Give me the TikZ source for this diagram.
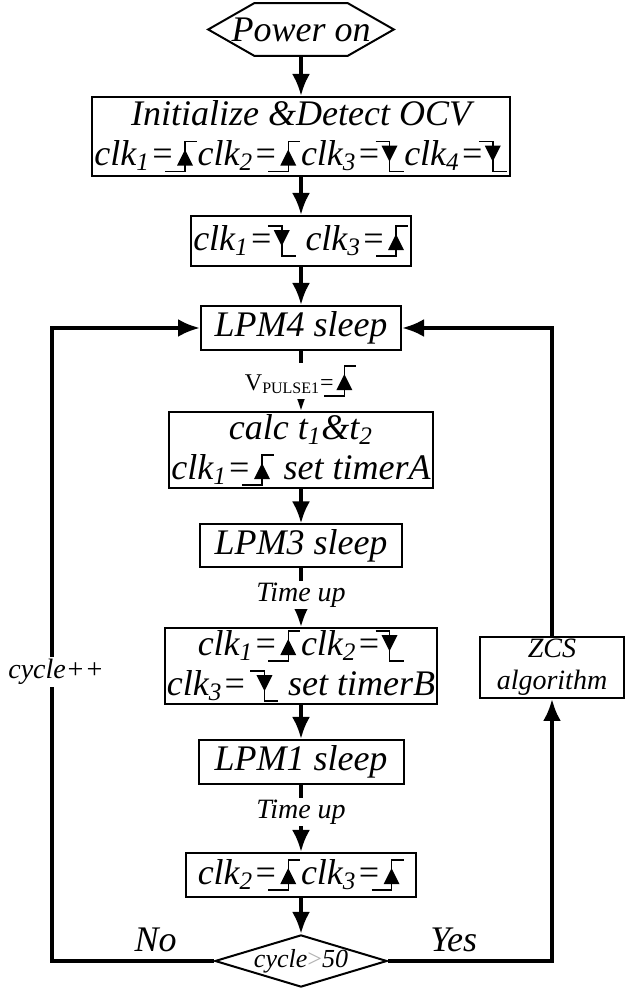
\documentclass[tikz,border=0pt]{standalone}
\usepackage{fontspec}
\setmainfont{Liberation Serif}
\usepackage{xcolor}
\usepackage{tikz}
\usetikzlibrary{shapes,arrows,arrows.meta}
% clock edge symbols
\newsavebox{\riseglyph}
\savebox{\riseglyph}{\begin{tikzpicture}[x=1pt,y=1pt,line width=0.7pt,baseline=0pt]
  \draw (0,-3) -- (10,-3) -- (10,12) -- (16,12);
  \fill (6,0) -- (14,0) -- (10,8) -- cycle;
\end{tikzpicture}}
\newsavebox{\fallglyph}
\savebox{\fallglyph}{\begin{tikzpicture}[x=1pt,y=1pt,line width=0.7pt,baseline=0pt]
  \draw (0,12) -- (7,12) -- (7,-3) -- (14,-3);
  \fill (3,10) -- (11,10) -- (7,2) -- cycle;
\end{tikzpicture}}
\newcommand{\edgeup}{\kern-5pt\usebox{\riseglyph}}
\newcommand{\edgedn}{\kern-3pt\usebox{\fallglyph}}
\tikzstyle{block} = [rectangle, draw, line width=1pt, align=center, inner sep=1pt,
    font=\fontsize{18}{20}\selectfont\itshape]
\tikzstyle{smallblock} = [rectangle, draw, line width=1pt, align=center, inner sep=1pt,
    font=\fontsize{14}{16}\selectfont\itshape]
\tikzstyle{decision} = [diamond, aspect=3.3, draw, line width=1pt, inner sep=0pt,
    font=\fontsize{13}{15}\selectfont\itshape]
\tikzstyle{arrow} = [draw, -{Latex[length=11pt,width=9pt]}, line width=2pt]
\tikzstyle{tag} = [fill=white, inner sep=1pt, font=\fontsize{14}{16}\selectfont\itshape]
\tikzstyle{bigtag} = [font=\fontsize{18}{20}\selectfont\itshape]

\begin{document}
\begin{tikzpicture}[x=0.5pt, y=0.5pt, node distance=50pt, thick]
      \useasboundingbox (0,0) rectangle (627,989);
      % Place nodes
      \node [minimum width=92pt, minimum height=25.5pt, inner sep=0pt, font=\fontsize{18}{20}\selectfont\itshape] (power) at (301,959.5) {Power on};
      \node [block, below of=power, node distance=53.5pt, minimum width=205.5pt, minimum height=39.5pt] (initDetect) {Initialize \&Detect OCV\\clk\textsubscript{1}=\edgeup clk\textsubscript{2}=\edgeup clk\textsubscript{3}=\edgedn clk\textsubscript{4}=\edgedn};
      \node [block, below of=initDetect, node distance=52.25pt, minimum width=109.5pt, minimum height=25pt] (clkSet) {clk\textsubscript{1}=\edgedn\ clk\textsubscript{3}=\edgeup};
      \node [block, below of=clkSet, node distance=43.5pt, minimum width=100pt, minimum height=22pt] (lpm4) {LPM4 sleep};
      \node [block, below of=lpm4, node distance=61pt, minimum width=123pt, minimum height=36pt] (calc) {calc t\textsubscript{1}\&t\textsubscript{2}\\clk\textsubscript{1}=\edgeup\ set timerA};
      \node [block, below of=calc, node distance=48pt, minimum width=101pt, minimum height=21.5pt] (lpm3) {LPM3 sleep};
      \node [block, below of=lpm3, node distance=60pt, minimum width=125pt, minimum height=33.5pt] (timerB) {clk\textsubscript{1}=\edgeup clk\textsubscript{2}=\edgedn\\clk\textsubscript{3}=\ \edgedn\ set timerB};
      \node [block, below of=timerB, node distance=48pt, minimum width=102.5pt, minimum height=22pt] (lpm1) {LPM1 sleep};
      \node [block, below of=lpm1, node distance=56.5pt, minimum width=115pt, minimum height=22pt] (clk23) {clk\textsubscript{2}=\edgeup clk\textsubscript{3}=\edgeup};
      \node [decision, below of=clk23, node distance=43pt, minimum width=85pt, minimum height=25.5pt] (cycleCheck) {cycle\textcolor{gray!60}{\upshape >}50};
      \node [smallblock, minimum width=72pt, minimum height=30.5pt] (zcs) at (552,321.5) {ZCS\\algorithm};
      \coordinate (leftTurn) at (52,661);

      % hexagon round the start node
      \draw [line width=1pt] (power.west) -- ([xshift=23pt]power.north west) -- ([xshift=-23pt]power.north east) -- (power.east) -- ([xshift=-23pt]power.south east) -- ([xshift=23pt]power.south west) -- cycle;

      \path [arrow] (power) -- (initDetect);
      \path [arrow] (initDetect) -- (clkSet);
      \path [arrow] (clkSet) -- (lpm4);
      \path [arrow] (lpm4) -- node [tag, font=\fontsize{12}{14}\selectfont\upshape] {V\textsubscript{PULSE1}=\edgeup} (calc);
      \path [arrow] (calc) -- (lpm3);
      \path [arrow] (lpm3) -- node [tag, pos=0.45] {Time up} (timerB);
      \path [arrow] (timerB) -- (lpm1);
      \path [arrow] (lpm1) -- node [tag, pos=0.4] {Time up} (clk23);
      \path [arrow] (clk23) -- (cycleCheck);
      %
      \path [arrow] (cycleCheck.west) -| node [bigtag, pos=0.18, above] {No} (leftTurn) -- (lpm4.west);
      \path [arrow] (cycleCheck.east) -| node [bigtag, pos=0.2, above] {Yes} (zcs.south);
      \path [arrow] (zcs.north) |- (lpm4.east);
      \node [tag] (cycleInc) at (56,317) {cycle++};
\end{tikzpicture}
\end{document}
